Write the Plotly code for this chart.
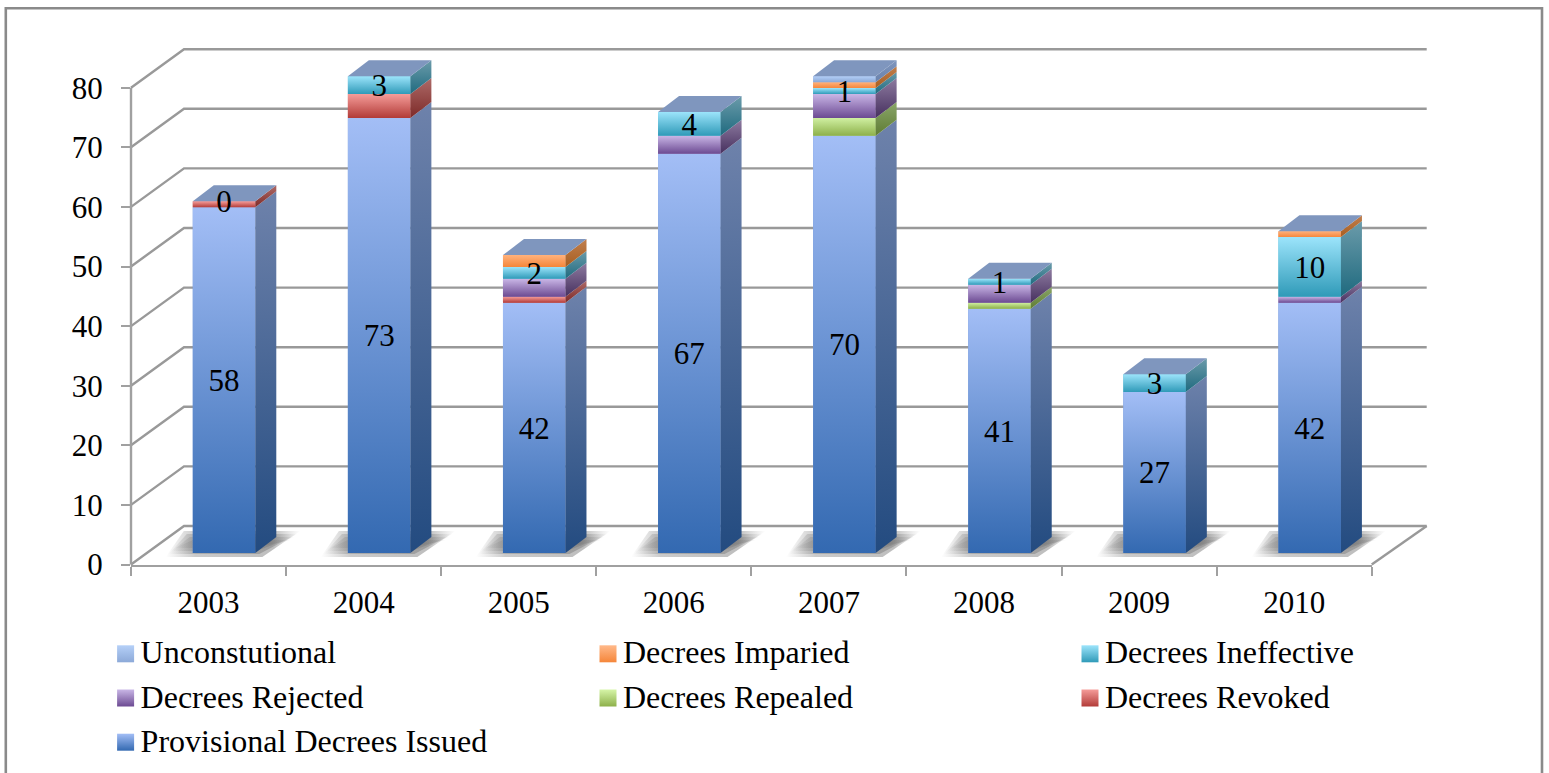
import plotly.graph_objects as go

years = ["2003", "2004", "2005", "2006", "2007", "2008", "2009", "2010"]
issued = [58, 73, 42, 67, 70, 41, 27, 42]
revoked = [1, 4, 1, 0, 0, 0, 0, 0]
repealed = [0, 0, 0, 0, 3, 1, 0, 0]
rejected = [0, 0, 3, 3, 4, 3, 0, 1]
ineffective = [0, 3, 2, 4, 1, 1, 3, 10]
impaired = [0, 0, 2, 0, 1, 0, 0, 1]
unconstitutional = [0, 0, 0, 0, 1, 0, 0, 0]
y_ticks = [0, 10, 20, 30, 40, 50, 60, 70, 80]

W, H = 1549, 773
FONT = "Liberation Serif"
FS = 31
INK = "#000000"
GRID = "#999999"

# pixel frame of the value axes (front plane of the oblique box)
PX_L, PX_R, PX_B, PX_T = 131.0, 1371.7, 564.5, 87.7
CAT = (PX_R - PX_L) / 8
UNIT = (PX_B - PX_T) / 80
Y_MAX = 90                          # headroom so the oblique bar tops stay in range
BACK_DX, BACK_DY = 53.0, 38.5      # wall depth in px
BAR_DX, BAR_DY = 21.0, 16.0        # bar depth in px
SHIFT_X, SHIFT_Y = 15.5, 11.5      # bar offset from front plane in px
BAR_W = 62.5
LABEL_DROP = 0.5                    # data labels sit slightly under the segment centre

series = [
    ("Provisional Decrees Issued", issued, ("#3369B1", "#A3BEF6"), ("#234B80", "#6E82AB"), "#6C92D2"),
    ("Decrees Revoked", revoked, ("#B23B38", "#F59C99"), ("#7D2A28", "#AD6A68"), "#D66B68"),
    ("Decrees Repealed", repealed, ("#8DB04A", "#D0F0A2"), ("#5F7C33", "#8AA66A"), "#AED076"),
    ("Decrees Rejected", rejected, ("#6C4A92", "#C9B6E6"), ("#47305F", "#8D7BA0"), "#9A80BC"),
    ("Decrees Ineffective", ineffective, ("#2F9AB8", "#9CE4FB"), ("#1F6A7F", "#6B9BAA"), "#65BFD9"),
    ("Decrees Impaired", impaired, ("#F5863A", "#FFB27D"), ("#A85E20", "#C07F4E"), "#FA9C5C"),
    ("Unconstutional", unconstitutional, ("#8BA8D6", "#B3CFF8"), ("#6A82AC", "#7F96BE"), "#9FBCE7"),
]
TOP_FACE = "#7F96BE"

legend_rows = [
    [("Unconstutional", ("#8CA9D8", "#B5D0F8")), ("Decrees Imparied", ("#F5863A", "#FFB98A")), ("Decrees Ineffective", ("#2F9AB8", "#9CE4FB"))],
    [("Decrees Rejected", ("#6C4A92", "#C9B6E6")), ("Decrees Repealed", ("#8DB04A", "#D6F5A8")), ("Decrees Revoked", ("#B23B38", "#F59C99"))],
    [("Provisional Decrees Issued", ("#3369B1", "#A3BEF6"))],
]

fig = go.Figure()


def px_y(val):
    return PX_B - val * UNIT


# ---- decoration layer in page pixels (axes x / y), drawn below the bars
def deco_line(xs, ys, color=GRID, width=2.4):
    fig.add_trace(go.Scatter(x=xs, y=ys, mode="lines", line=dict(color=color, width=width),
                             hoverinfo="skip", showlegend=False, xaxis="x", yaxis="y", cliponaxis=False))


deco_line([5.8, 5.8, 1542, 1542], [H + 5, 8.2, 8.2, H + 5], color="#8A8A8A", width=2.6)
for v in y_ticks:
    yf = px_y(v)
    deco_line([PX_L, PX_L + BACK_DX, PX_R + BACK_DX + 2], [yf, yf - BACK_DY, yf - BACK_DY])
deco_line([PX_R, PX_R + BACK_DX + 2], [PX_B, PX_B - BACK_DY])
deco_line([PX_L, PX_L], [px_y(0), px_y(80)], color="#A0A0A0")

# floor shadows: nested translucent layers imitate the soft blur
for i in range(len(years)):
    left = PX_L + SHIFT_X + (i + 0.5) * CAT - BAR_W / 2
    bot = PX_B - SHIFT_Y
    for grow in (3, 0, -3, -6):
        fig.add_trace(go.Scatter(
            x=[left - 24 - grow, left + BAR_W + 4 + grow, left + BAR_W + 42 + grow, left - 6 - grow, left - 24 - grow],
            y=[bot + 1 + grow, bot + 1 + grow, bot - 19 - grow, bot - 19 - grow, bot + 1 + grow],
            mode="lines", line=dict(width=0), fill="toself",
            fillgradient=dict(type="horizontal",
                              colorscale=[[0, "rgba(130,130,130,0)"], [0.22, "rgba(130,130,130,0.42)"],
                                          [0.8, "rgba(120,120,120,0.48)"], [1, "rgba(140,140,140,0)"]]),
            hoverinfo="skip", showlegend=False, xaxis="x", yaxis="y", cliponaxis=False))

# ---- value axes (x2 / y2): bars and their oblique faces
cats = [i + 0.5 + SHIFT_X / CAT for i in range(len(years))]
width_c = BAR_W / CAT
lift = SHIFT_Y / UNIT
dx = BAR_DX / CAT
dy = BAR_DY / UNIT

bases = [lift] * len(years)
label_pts = {"x": [], "y": [], "t": []}
for name, vals, front, side, mid in series:
    cur_base = list(bases)
    fig.add_trace(go.Bar(x=cats, y=vals, base=cur_base, width=width_c, name=name,
                         marker=dict(color=mid, line=dict(width=0)),
                         xaxis="x2", yaxis="y2", cliponaxis=False, showlegend=False))
    for i, v in enumerate(vals):
        if v <= 0:
            continue
        b = cur_base[i]
        l, r = cats[i] - width_c / 2, cats[i] + width_c / 2
        fig.add_trace(go.Scatter(
            x=[l, r, r, l, l], y=[b, b, b + v, b + v, b], mode="lines", line=dict(width=0), fill="toself",
            fillgradient=dict(type="vertical", colorscale=[[0, front[0]], [1, front[1]]]),
            hoverinfo="skip", showlegend=False, xaxis="x2", yaxis="y2", cliponaxis=False))
        fig.add_trace(go.Scatter(
            x=[r, r + dx, r + dx, r, r], y=[b, b + dy, b + v + dy, b + v, b], mode="lines",
            line=dict(width=0), fill="toself",
            fillgradient=dict(type="vertical", colorscale=[[0, side[0]], [1, side[1]]]),
            hoverinfo="skip", showlegend=False, xaxis="x2", yaxis="y2", cliponaxis=False))
    if name in ("Provisional Decrees Issued", "Decrees Ineffective"):
        for i, v in enumerate(vals):
            label_pts["x"].append(cats[i])
            label_pts["y"].append(cur_base[i] + v / 2 - LABEL_DROP)
            label_pts["t"].append(str(v))
    bases = [a + b for a, b in zip(bases, vals)]

# top faces
for i, t in enumerate(bases):
    l, r = cats[i] - width_c / 2, cats[i] + width_c / 2
    fig.add_trace(go.Scatter(x=[l, r, r + dx, l + dx, l], y=[t, t, t + dy, t + dy, t], mode="lines",
                             line=dict(width=0), fill="toself", fillcolor=TOP_FACE,
                             hoverinfo="skip", showlegend=False, xaxis="x2", yaxis="y2", cliponaxis=False))

# data labels
fig.add_trace(go.Scatter(x=label_pts["x"], y=label_pts["y"], text=label_pts["t"], mode="text",
                         textposition="middle center", textfont=dict(family=FONT, size=FS, color=INK),
                         hoverinfo="skip", showlegend=False, xaxis="x2", yaxis="y2", cliponaxis=False))

# ---- hand-placed legend in page pixels, above everything
col_x = [125.6, 608.0, 1090.0]
row_y = [653.8, 698.0, 742.2]
for r, row in enumerate(legend_rows):
    for c, (lab, grad) in enumerate(row):
        fig.add_trace(go.Scatter(
            x=[col_x[c]], y=[row_y[r]], mode="markers",
            marker=dict(symbol="square", size=17, color=grad[1],
                        gradient=dict(type="vertical", color=grad[0]), line=dict(width=0)),
            hoverinfo="skip", showlegend=False, xaxis="x", yaxis="y", cliponaxis=False))
        fig.add_trace(go.Scatter(
            x=[col_x[c] + 15], y=[row_y[r] + 1.5], mode="text", text=[lab], textposition="middle right",
            textfont=dict(family=FONT, size=FS + 1, color=INK),
            hoverinfo="skip", showlegend=False, xaxis="x", yaxis="y", cliponaxis=False))

fig.update_layout(
    width=W, height=H, margin=dict(l=0, r=0, t=0, b=0, pad=0), template=None,
    paper_bgcolor="white", plot_bgcolor="rgba(0,0,0,0)", barmode="overlay", showlegend=False,
    font=dict(family=FONT, size=FS, color=INK), hovermode=False,
    xaxis=dict(domain=[0, 1], range=[0, W], visible=False, fixedrange=True, automargin=False),
    yaxis=dict(domain=[0, 1], range=[H, 0], visible=False, fixedrange=True, automargin=False),
    xaxis2=dict(domain=[PX_L / W, PX_R / W], range=[0, 8], anchor="y2", showgrid=False, zeroline=False,
                automargin=False, showline=True, linecolor="#A0A0A0", linewidth=2.4,
                tickmode="array", tickvals=[i + 0.5 for i in range(len(years))], ticktext=years,
                ticks="", ticklabelstandoff=9, tickfont=dict(family=FONT, size=FS, color=INK),
                minor=dict(tickmode="array", tickvals=list(range(9)), ticks="outside", ticklen=9,
                           tickwidth=1.6, tickcolor="#A0A0A0", showgrid=False)),
    yaxis2=dict(domain=[1 - PX_B / H, 1 - (PX_B - Y_MAX * UNIT) / H], range=[0, Y_MAX], anchor="x2",
                showgrid=False, zeroline=False, automargin=False, showline=False,
                tickmode="array", tickvals=y_ticks, ticks="outside", ticklen=9, tickwidth=1.6,
                tickcolor="#A0A0A0", ticklabelstandoff=12, tickfont=dict(family=FONT, size=FS, color=INK)),
)

fig.write_html("out.html", config=dict(displayModeBar=False),
               post_script="document.body.style.margin='0';document.documentElement.style.overflow='hidden';")
